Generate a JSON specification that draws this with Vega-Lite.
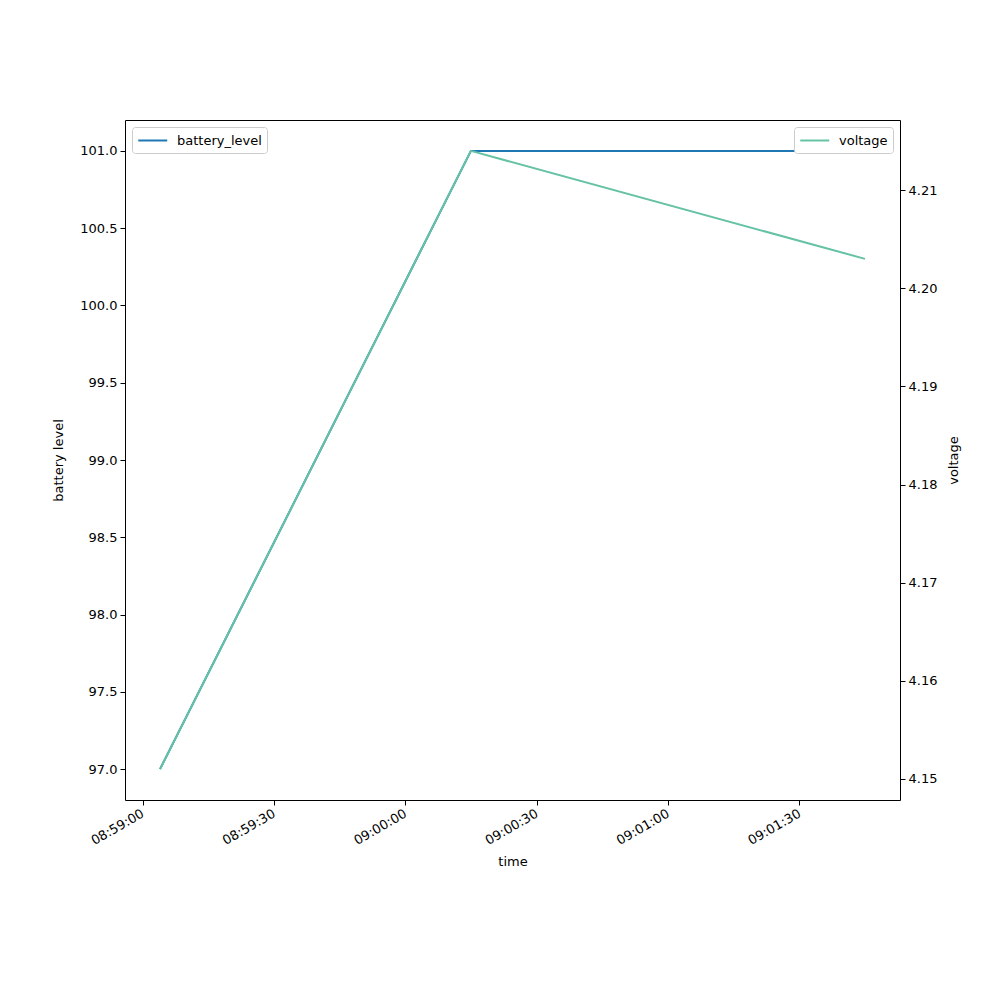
{
  "$schema": "https://vega.github.io/schema/vega-lite/v6.json",
  "width": 775,
  "height": 680,
  "autosize": {"type": "none"},
  "padding": {"left": 125, "top": 120, "right": 100, "bottom": 200},
  "background": "white",
  "data": {
    "values": [
      {"time": "2024-01-01T08:59:04Z", "battery_level": 97, "voltage": 4.151},
      {"time": "2024-01-01T09:00:15Z", "battery_level": 101, "voltage": 4.214},
      {"time": "2024-01-01T09:01:45Z", "battery_level": 101, "voltage": 4.203}
    ]
  },
  "config": {
    "font": "DejaVu Sans",
    "view": {"stroke": "black", "strokeWidth": 1},
    "axis": {
      "grid": false,
      "domain": false,
      "tickColor": "black",
      "tickSize": 5,
      "labelColor": "black",
      "labelFontSize": 13,
      "labelFont": "DejaVu Sans",
      "titleFont": "DejaVu Sans",
      "titleFontSize": 13,
      "titleFontWeight": "normal",
      "titleColor": "black",
      "labelPadding": 3
    },
    "legend": {
      "labelFont": "DejaVu Sans",
      "labelFontSize": 13,
      "labelColor": "black",
      "strokeColor": "#cccccc",
      "fillColor": "white",
      "cornerRadius": 3,
      "padding": 5,
      "offset": 7,
      "symbolType": "M-1,0L3,0",
      "symbolSize": 210,
      "symbolStrokeWidth": 2,
      "labelOffset": 23
    }
  },
  "encoding": {
    "x": {
      "field": "time",
      "type": "temporal",
      "scale": {
        "type": "utc",
        "domain": [
          {"year": 2024, "month": 1, "date": 1, "hours": 8, "minutes": 58, "seconds": 56, "utc": true},
          {"year": 2024, "month": 1, "date": 1, "hours": 9, "minutes": 1, "seconds": 53, "utc": true}
        ]
      },
      "axis": {
        "title": "time",
        "format": "%H:%M:%S",
        "labelAngle": -30,
        "labelAlign": "right",
        "labelBaseline": "top",
        "labelPadding": 2,
        "labelOffset": -3,
        "titlePadding": 8,
        "values": [
          {"year": 2024, "month": 1, "date": 1, "hours": 8, "minutes": 59, "seconds": 0, "utc": true},
          {"year": 2024, "month": 1, "date": 1, "hours": 8, "minutes": 59, "seconds": 30, "utc": true},
          {"year": 2024, "month": 1, "date": 1, "hours": 9, "minutes": 0, "seconds": 0, "utc": true},
          {"year": 2024, "month": 1, "date": 1, "hours": 9, "minutes": 0, "seconds": 30, "utc": true},
          {"year": 2024, "month": 1, "date": 1, "hours": 9, "minutes": 1, "seconds": 0, "utc": true},
          {"year": 2024, "month": 1, "date": 1, "hours": 9, "minutes": 1, "seconds": 30, "utc": true}
        ]
      }
    }
  },
  "layer": [
    {
      "mark": {"type": "line", "color": "#1f77b4", "strokeWidth": 2},
      "encoding": {
        "y": {
          "field": "battery_level",
          "type": "quantitative",
          "scale": {"domain": [96.8, 101.2], "nice": false, "zero": false},
          "axis": {
            "title": "battery level",
            "orient": "left",
            "values": [97, 97.5, 98, 98.5, 99, 99.5, 100, 100.5, 101],
            "format": ".1f",
            "titlePadding": 14
          }
        },
        "color": {
          "datum": "battery_level",
          "scale": {"range": ["#1f77b4"]},
          "legend": {"orient": "top-left", "title": null}
        }
      }
    },
    {
      "mark": {"type": "line", "color": "#66c2a5", "strokeWidth": 2},
      "encoding": {
        "y": {
          "field": "voltage",
          "type": "quantitative",
          "scale": {"domain": [4.14785, 4.21715], "nice": false, "zero": false},
          "axis": {
            "title": "voltage",
            "orient": "right",
            "titleAngle": 270,
            "values": [4.15, 4.16, 4.17, 4.18, 4.19, 4.2, 4.21],
            "format": ".2f",
            "titlePadding": 24
          }
        },
        "color": {
          "datum": "voltage",
          "scale": {"range": ["#66c2a5"]},
          "legend": {"orient": "top-right", "title": null}
        }
      }
    }
  ],
  "resolve": {"scale": {"y": "independent", "color": "independent"}}
}
